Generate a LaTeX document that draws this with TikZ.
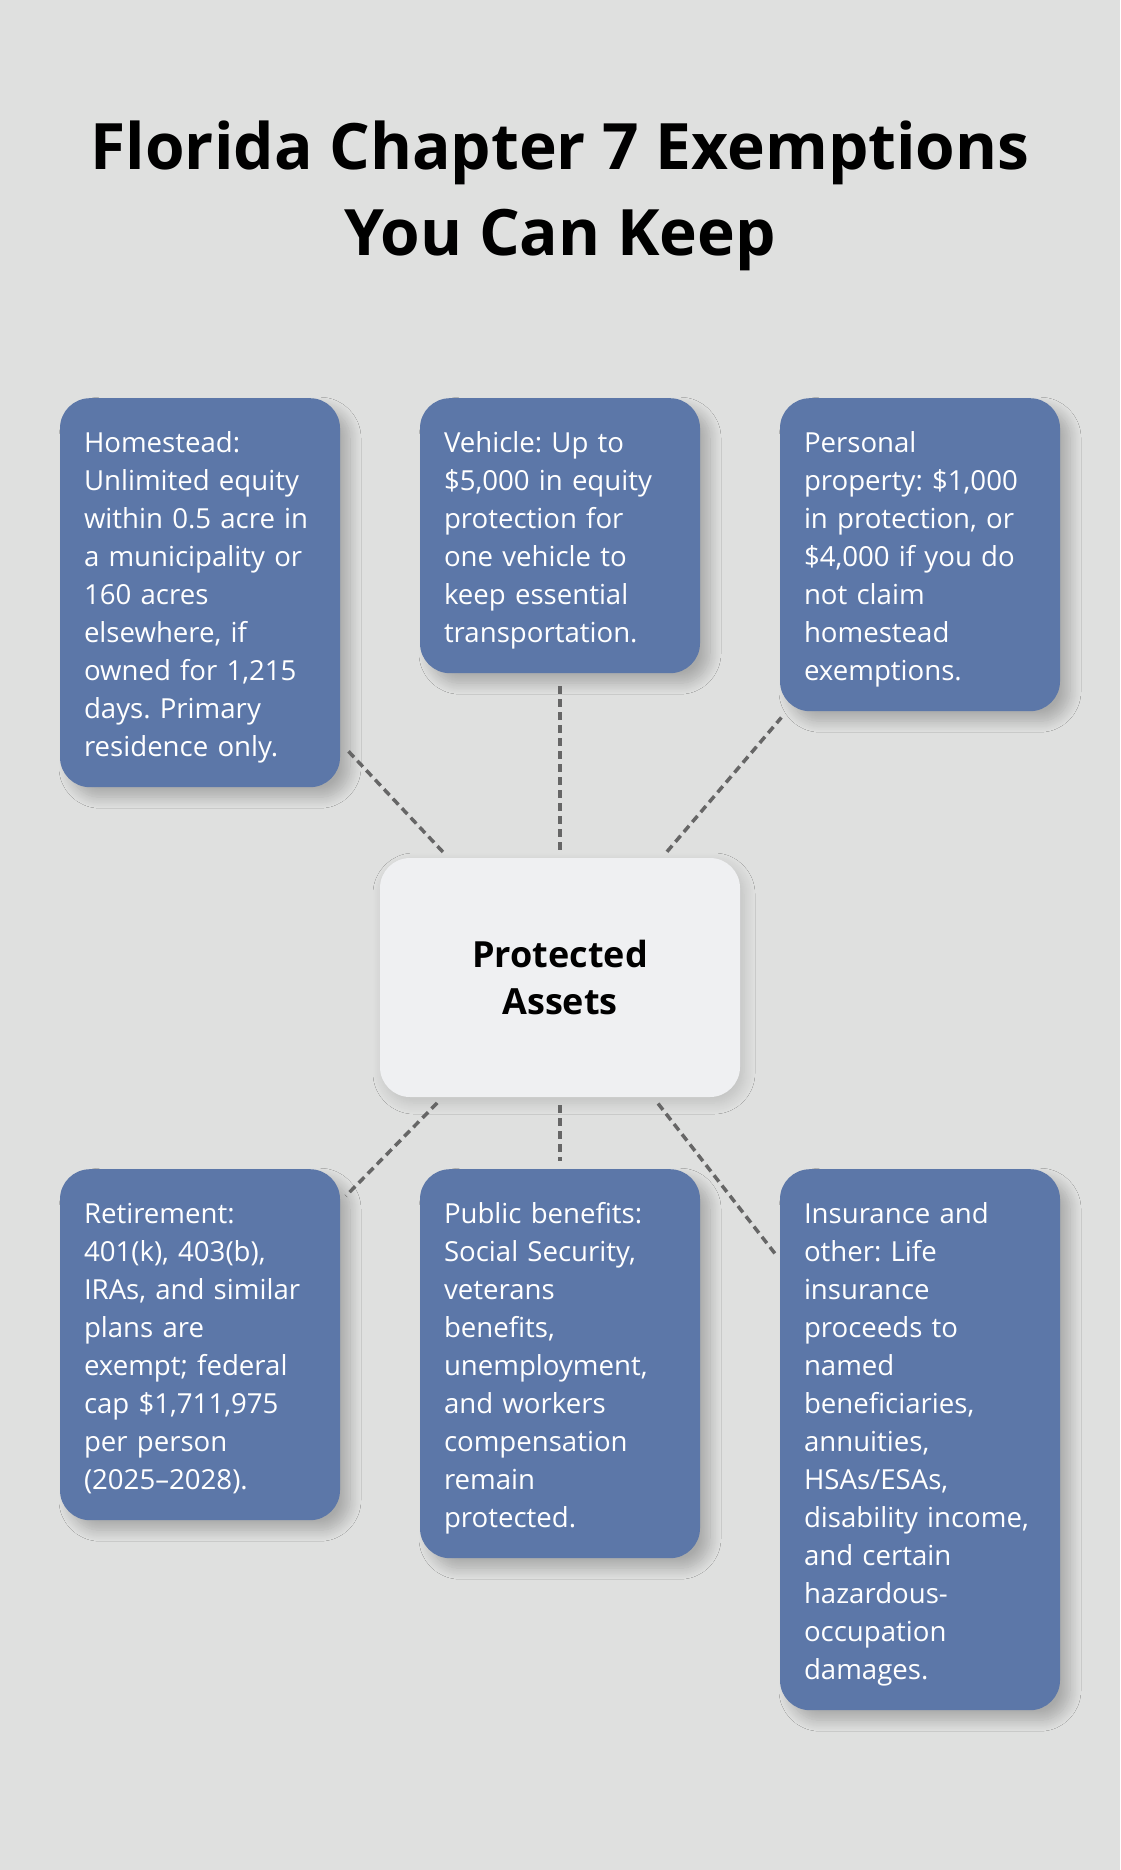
\documentclass[tikz,border=0pt]{standalone}
\usepackage{fontspec}
\setmainfont{Open Sans}
\usetikzlibrary{shadows.blur}
\definecolor{bg}{HTML}{DFE0DF}
\definecolor{boxblue}{HTML}{5C77A8}
\definecolor{centerfill}{HTML}{EFF0F2}
\definecolor{linegray}{HTML}{666666}
\newcommand\cardtext[1]{\frenchspacing\rule{0pt}{30.6pt}#1\rule[-7.4pt]{0pt}{7.4pt}}
\begin{document}
\begin{tikzpicture}[x=1pt,y=-1pt,
  card/.style={rectangle, rounded corners=30pt, fill=boxblue, text=white,
    text width=232pt, align=left, inner xsep=24pt, inner ysep=23.5pt, anchor=north,
    font=\fontsize{27.6}{38}\selectfont,
    blur shadow={shadow xshift=10pt, shadow yshift=-10pt, shadow blur radius=11pt, shadow opacity=24, shadow blur steps=12}},
  hub/.style={rectangle, rounded corners=30pt, fill=centerfill, text=black,
    minimum width=360pt, minimum height=239pt, align=center,
    font=\bfseries\fontsize{36}{47}\selectfont,
    blur shadow={shadow xshift=4pt, shadow yshift=-6pt, shadow blur radius=11pt, shadow opacity=14, shadow blur steps=12}},
  titletext/.style={anchor=base, font=\bfseries\fontsize{64}{85}\selectfont, text=black, inner sep=0pt},
  conn/.style={draw=linegray, line width=3.5pt, dash pattern=on 8pt off 5pt, shorten <=8pt, shorten >=8pt}
]
\fill[bg] (0,0) rectangle (1120,1870);
\useasboundingbox (0,0) rectangle (1120,1870);

\node[titletext] (t1) at (560,170) {Florida Chapter 7 Exemptions};
\node[titletext] (t2) at (560,255) {You Can Keep};

\node[card] (b1) at (200,398) {\cardtext{Homestead:\\Unlimited equity\\within 0.5 acre in\\a municipality or\\160 acres\\elsewhere, if\\owned for 1,215\\days. Primary\\residence only.}};
\node[card] (b2) at (560,398) {\cardtext{Vehicle: Up to\\\$5,000 in equity\\protection for\\one vehicle to\\keep essential\\transportation.}};
\node[card] (b3) at (920,398) {\cardtext{Personal\\property: \$1,000\\in protection, or\\\$4,000 if you do\\not claim\\homestead\\exemptions.}};
\node[card] (b4) at (200,1169) {\cardtext{Retirement:\\401(k), 403(b),\\IRAs, and similar\\plans are\\exempt; federal\\cap \$1,711,975\\per person\\(2025–2028).}};
\node[card] (b5) at (560,1169) {\cardtext{Public benefits:\\Social Security,\\veterans\\benefits,\\unemployment,\\and workers\\compensation\\remain\\protected.}};
\node[card] (b6) at (920,1169) {\cardtext{Insurance and\\other: Life\\insurance\\proceeds to\\named\\beneficiaries,\\annuities,\\HSAs/ESAs,\\disability income,\\and certain\\hazardous-\\occupation\\damages.}};

\node[hub] (c) at (560,977.5) {Protected\\Assets};

\draw[conn] (c) -- (b1);
\draw[conn] (c) -- (b2);
\draw[conn] (c) -- (b3);
\draw[conn] (c) -- (b4);
\draw[conn] (c) -- (b5);
\draw[conn] (c) -- (b6);
\end{tikzpicture}
\end{document}
